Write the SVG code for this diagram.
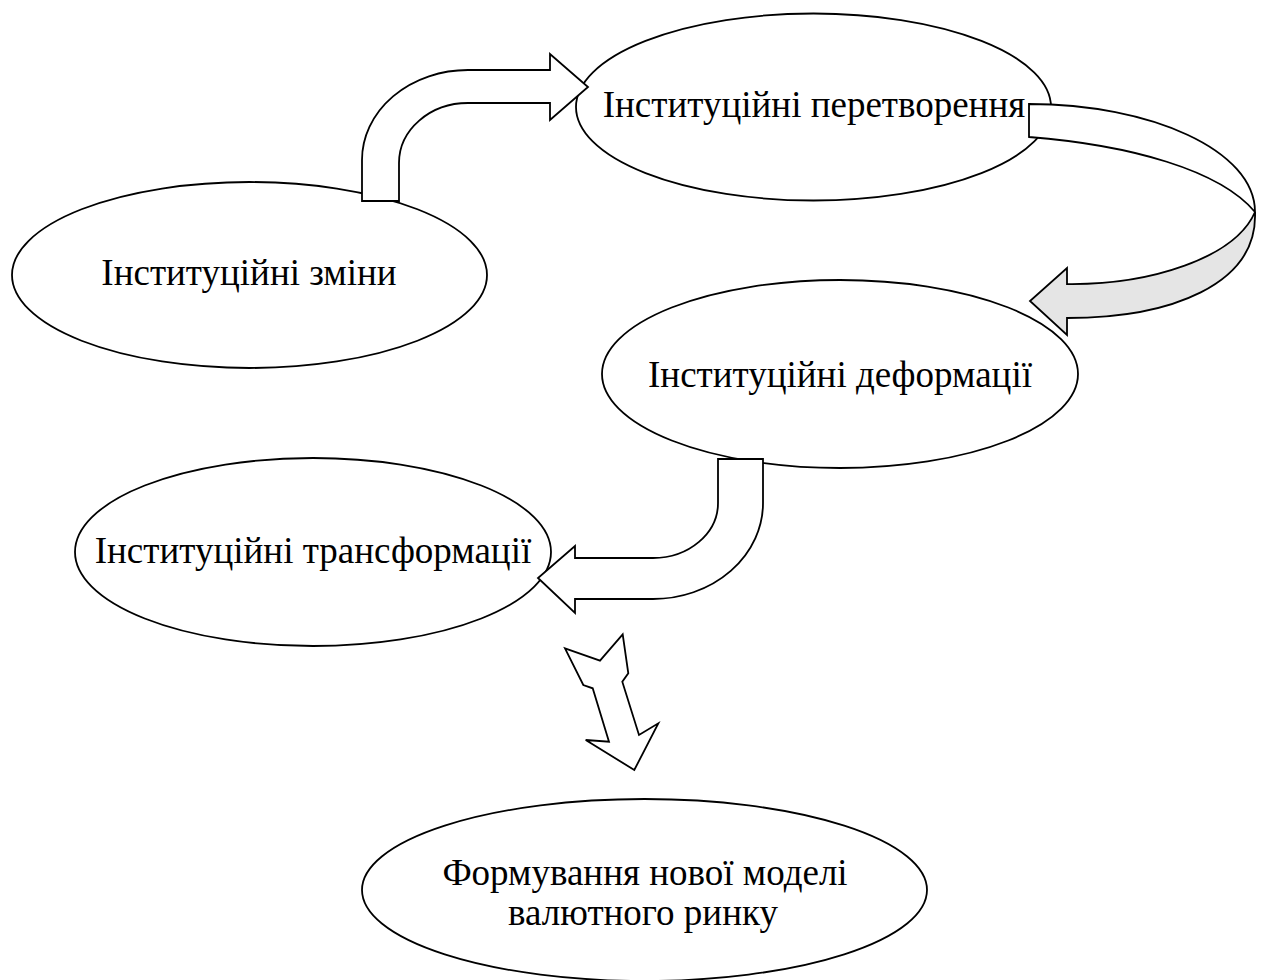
<svg xmlns="http://www.w3.org/2000/svg" width="1261" height="980" viewBox="0 0 1261 980">
<style>
.node{fill:#fff;stroke:#000;stroke-width:1.8}
.lbl{font-family:"Liberation Serif","Times New Roman",serif;font-size:37px;fill:#000;text-anchor:middle}
.arr{fill:#fff;stroke:#000;stroke-width:1.8;stroke-linejoin:miter}
.shade{fill:#e5e5e5;stroke:#000;stroke-width:1.8}
</style>
<rect width="1261" height="980" fill="#fff"/>
<g id="node-zminy">
<ellipse class="node" cx="249.5" cy="275" rx="237.5" ry="93"/>
<text class="lbl" x="249" y="285">Інституційні зміни</text>
</g>
<g id="node-peretvorennia">
<ellipse class="node" cx="813.5" cy="107" rx="237.5" ry="93.5"/>
<text class="lbl" x="814" y="117">Інституційні перетворення</text>
</g>
<g id="node-deformatsii">
<ellipse class="node" cx="840" cy="374" rx="238" ry="94"/>
<text class="lbl" x="840" y="387">Інституційні деформації</text>
</g>
<g id="node-transformatsii">
<ellipse class="node" cx="313" cy="552" rx="238" ry="94"/>
<text class="lbl" x="313" y="563">Інституційні трансформації</text>
</g>
<g id="node-model">
<ellipse class="node" cx="644.5" cy="890" rx="282.5" ry="91"/>
<text class="lbl" x="645" y="885">Формування нової моделі</text>
<text class="lbl" x="643" y="925">валютного ринку</text>
</g>
<g id="connectors">
<path class="arr" d="M362,201 V160 A106,90 0 0 1 468,70 H550 V54 L588,87 L550,120 V103 H468 A69,60 0 0 0 399,163 V201 Z"/>
<path class="arr" d="M1029,104 C1150,104 1255,150 1255,212 C1220,170 1130,145 1029,137 Z"/>
<path class="shade" d="M1255,212 C1258,285 1170,318 1067,318 L1067,335 L1030,301 L1067,268 L1067,284 C1150,285 1235,258 1255,212 Z"/>
<path class="arr" d="M718,459 H763 V503 A110,96 0 0 1 653,599 H575 V613 L538,578 L575,546 V558 H653 A65,55 0 0 0 718,503 Z"/>
<path class="arr" d="M565,648.3 L600,660.7 L622.7,634.3 L628.3,673.3 L622.3,681.7 L639,735 L658.3,723.3 L634.3,770 L585.7,740 L609,741.7 L592.7,688.3 L583.3,685 Z"/>
</g>
</svg>
